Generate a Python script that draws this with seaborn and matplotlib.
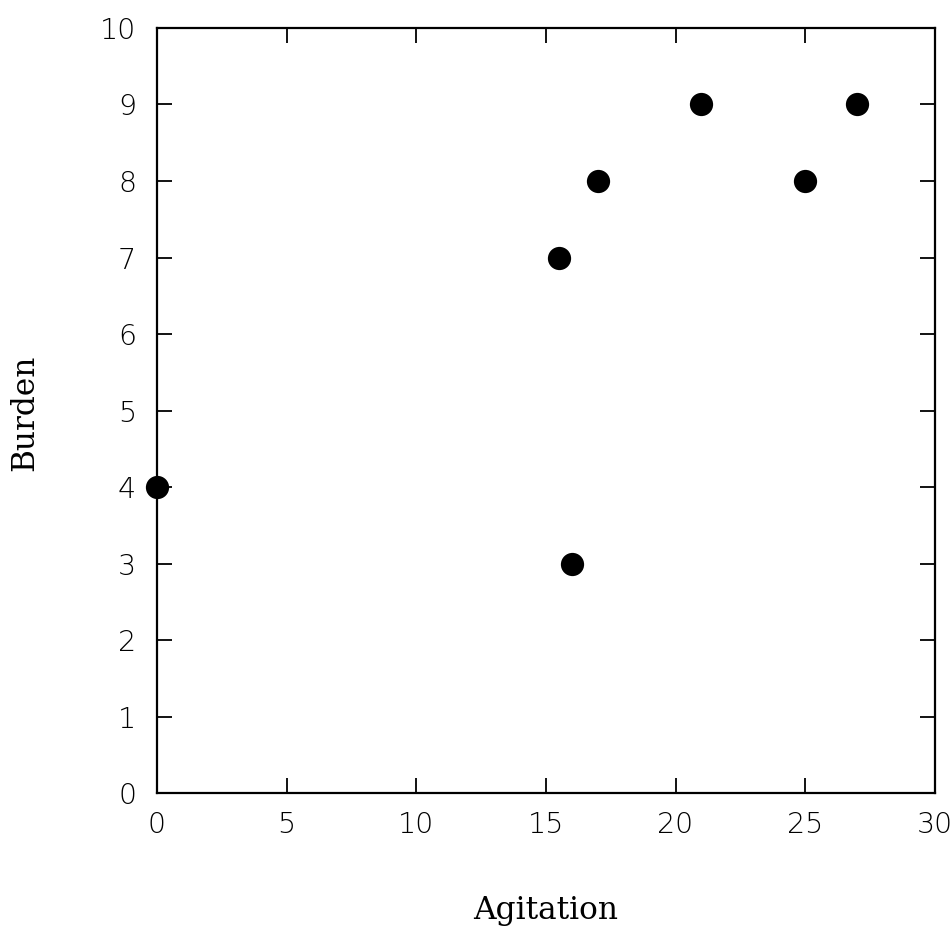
import matplotlib.pyplot as plt
import pandas as pd
import seaborn as sns

agitation = [0, 15.5, 16, 17, 21, 25, 27]
burden = [4, 7, 3, 8, 9, 8, 9]
x_ticks = [0, 5, 10, 15, 20, 25, 30]
y_ticks = [0, 1, 2, 3, 4, 5, 6, 7, 8, 9, 10]

df = pd.DataFrame({'Agitation': agitation, 'Burden': burden})

sns.set_style('ticks')
plt.rcParams['font.family'] = ['DejaVu Sans']

fig = plt.figure(figsize=(9.51, 9.33), dpi=100)
ax = fig.add_axes([0.165, 0.150, 0.818, 0.820])

sns.scatterplot(data=df, x='Agitation', y='Burden', ax=ax, s=280, color='black',
                edgecolor='black', linewidth=0, clip_on=False, zorder=3)

ax.set_xlim(0, 30)
ax.set_ylim(0, 10)
ax.set_xticks(x_ticks)
ax.set_yticks(y_ticks)
ax.tick_params(direction='in', length=11, width=1.3, top=True, right=True,
               labelsize=20.5, colors='black')
ax.tick_params(axis='x', pad=13)
ax.tick_params(axis='y', pad=15)
for lab in ax.get_xticklabels() + ax.get_yticklabels():
    lab.set_fontweight('light')
for sp in ax.spines.values():
    sp.set_linewidth(1.6)
    sp.set_color('black')

ax.set_xlabel('Agitation', family='DejaVu Serif', fontsize=22.5, color='black')
ax.set_ylabel('Burden', family='DejaVu Serif', fontsize=22.5, color='black')
ax.xaxis.set_label_coords(0.5, -0.133)
ax.yaxis.set_label_coords(-0.150, 0.497)

fig.savefig('out.png', dpi=100)
